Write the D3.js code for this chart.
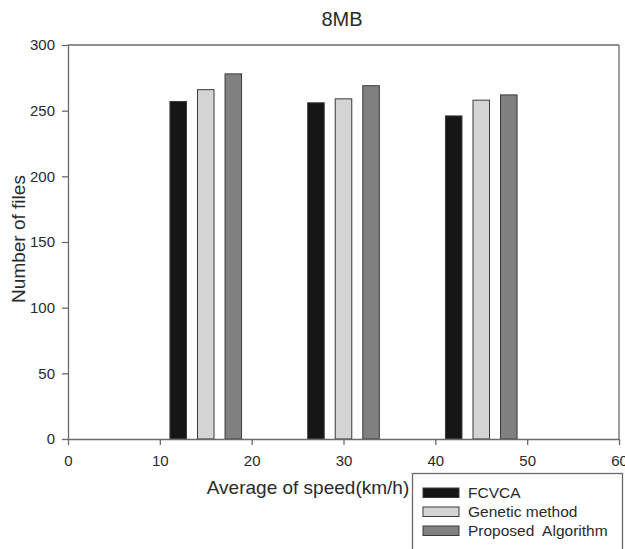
<!DOCTYPE html>
<html>
<head>
<meta charset="utf-8">
<script src="https://cdn.jsdelivr.net/npm/d3@7"></script>
<style>
  html, body { margin: 0; padding: 0; background: #fff; }
  svg { display: block; font-family: "Liberation Sans", Arial, sans-serif; }
</style>
</head>
<body>
<svg id="chart" width="625" height="549"></svg>
<script>
// ---- data ----
const title = "8MB";
const speeds = [15, 30, 45];            // category centres (km/h)
const seriesNames = ["FCVCA", "Genetic method", "Proposed  Algorithm"];
const fcvca = [257, 256, 246];
const genetic = [266, 259, 258];
const proposed = [278, 269, 262];
const xTicks = [0, 10, 20, 30, 40, 50, 60];
const yTicks = [0, 50, 100, 150, 200, 250, 300];
const xLabel = "Average of speed(km/h)";
const yLabel = "Number of files";

const seriesValues = [fcvca, genetic, proposed];
const seriesColors = ["#161616", "#d4d4d4", "#808080"];

const svg = d3.select("#chart");
const m = { left: 68, right: 619, top: 45, bottom: 439 };

const x = d3.scaleLinear().domain([0, 60]).range([m.left, m.right]);
const y = d3.scaleLinear().domain([0, 300]).range([m.bottom, m.top]);

const axisColor = "#6a6a6a";
const textColor = "#2a2a2a";

// frame (top and right)
svg.append("line").attr("x1", m.left).attr("x2", m.right).attr("y1", m.top).attr("y2", m.top)
  .attr("stroke", axisColor).attr("stroke-width", 1.3);
svg.append("line").attr("x1", m.right).attr("x2", m.right).attr("y1", m.top).attr("y2", m.bottom)
  .attr("stroke", axisColor).attr("stroke-width", 1.3);

// bars
const spacing = 3;     // offset between bars within a group (km/h units)
const barW = 1.8;      // bar width in km/h units
seriesValues.forEach((vals, si) => {
  svg.append("g").selectAll("rect").data(vals).join("rect")
    .attr("x", (d, i) => x(speeds[i] + (si - 1) * spacing - barW / 2))
    .attr("width", (d, i) => x(speeds[i] + barW / 2) - x(speeds[i] - barW / 2))
    .attr("y", d => y(d))
    .attr("height", d => y(0) - y(d))
    .attr("fill", seriesColors[si])
    .attr("stroke", "#3a3a3a")
    .attr("stroke-width", 1);
});

// axes
const xAxis = svg.append("g").attr("transform", `translate(0,${m.bottom})`)
  .call(d3.axisBottom(x).tickValues(xTicks).tickSize(6).tickPadding(10).tickSizeOuter(0));
const yAxis = svg.append("g").attr("transform", `translate(${m.left},0)`)
  .call(d3.axisLeft(y).tickValues(yTicks).tickSize(6).tickPadding(7).tickSizeOuter(0));
[xAxis, yAxis].forEach(a => {
  a.select(".domain").attr("stroke", axisColor).attr("stroke-width", 1.3);
  a.selectAll(".tick line").attr("stroke", axisColor).attr("stroke-width", 1.3);
  a.selectAll(".tick text").attr("fill", textColor).style("font-size", "15px")
    .style("font-family", "'Liberation Sans', Arial, sans-serif");
});

// title
svg.append("text").attr("x", 342).attr("y", 26).attr("text-anchor", "middle")
  .attr("fill", textColor).style("font-size", "20px").text(title);

// axis titles
svg.append("text").attr("x", 308).attr("y", 494).attr("text-anchor", "middle")
  .attr("fill", textColor).style("font-size", "19px").text(xLabel);
svg.append("text").attr("transform", `translate(25,${(m.top + m.bottom) / 2 - 3}) rotate(-90)`)
  .attr("text-anchor", "middle").attr("fill", textColor).style("font-size", "19px").text(yLabel);

// legend
const lg = svg.append("g");
lg.append("rect").attr("x", 412.5).attr("y", 473.5).attr("width", 210).attr("height", 90)
  .attr("fill", "#fff").attr("stroke", axisColor).attr("stroke-width", 1.3);
seriesNames.forEach((name, i) => {
  const yy = 488 + i * 19;
  lg.append("rect").attr("x", 423).attr("y", yy).attr("width", 36).attr("height", 9.5)
    .attr("fill", seriesColors[i]).attr("stroke", "#3a3a3a").attr("stroke-width", 1);
  lg.append("text").attr("x", 468).attr("y", yy + 10).attr("fill", textColor)
    .style("font-size", "15.5px").attr("xml:space", "preserve").text(name);
});
</script>
</body>
</html>
